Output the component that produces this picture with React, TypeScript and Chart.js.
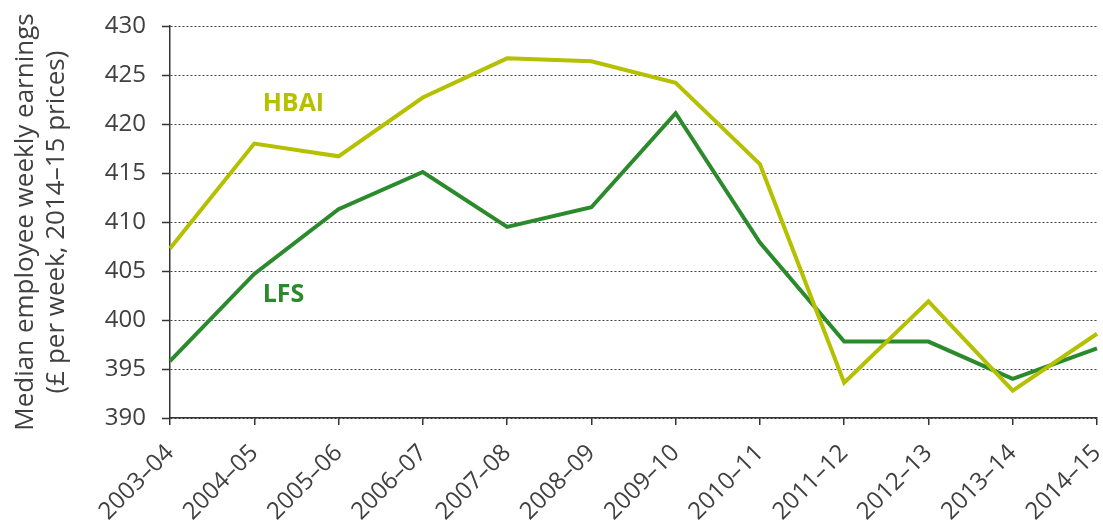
import React, { useEffect, useRef } from "react";
import { Chart, registerables } from "chart.js";

Chart.register(...registerables);

const categories = [
  "2003–04", "2004–05", "2005–06", "2006–07", "2007–08", "2008–09",
  "2009–10", "2010–11", "2011–12", "2012–13", "2013–14", "2014–15",
];
const hbaiValues = [407.3, 418.0, 416.7, 422.7, 426.7, 426.4, 424.2, 415.9, 393.6, 401.9, 392.8, 398.6];
const lfsValues = [395.8, 404.7, 411.3, 415.1, 409.5, 411.5, 421.1, 407.9, 397.8, 397.8, 394.0, 397.1];
const yTicks = [390, 395, 400, 405, 410, 415, 420, 425, 430];
const yTitle = ["Median employee weekly earnings", "(£ per week, 2014–15 prices)"];
// series name labels: [category index, value]
const hbaiLabelAt = [1.1, 422.1];
const lfsLabelAt = [1.1, 402.6];

const HBAI_COLOR = "#b4c000";
const LFS_COLOR = "#2a8a2c";
const TEXT = "#404040";
const FONT = "'Open Sans', 'Noto Sans', sans-serif";

const seriesLabels = {
  id: "seriesLabels",
  afterDatasetsDraw(chart: any) {
    const { ctx, scales } = chart;
    const items: [string, number[], string][] = [
      ["HBAI", hbaiLabelAt, HBAI_COLOR],
      ["LFS", lfsLabelAt, LFS_COLOR],
    ];
    ctx.save();
    ctx.font = `bold 25px ${FONT}`;
    ctx.textAlign = "left";
    ctx.textBaseline = "middle";
    for (const [t, pos, c] of items) {
      ctx.fillStyle = c;
      ctx.fillText(t, scales.x.getPixelForValue(pos[0]), scales.y.getPixelForValue(pos[1]));
    }
    ctx.restore();
  },
};

export default function App() {
  const ref = useRef<HTMLCanvasElement>(null);
  useEffect(() => {
    const chart = new Chart(ref.current!, {
      type: "line",
      data: {
        labels: categories,
        datasets: [
          { label: "HBAI", data: hbaiValues, borderColor: HBAI_COLOR, borderWidth: 4, pointRadius: 0, tension: 0, fill: false },
          { label: "LFS", data: lfsValues, borderColor: LFS_COLOR, borderWidth: 4, pointRadius: 0, tension: 0, fill: false },
        ],
      },
      options: {
        animation: false,
        responsive: false,
        devicePixelRatio: 1,
        layout: { padding: { top: 26, right: 6, left: 0, bottom: 0 } },
        plugins: { legend: { display: false }, tooltip: { enabled: false } },
        scales: {
          x: {
            offset: false,
            grid: { display: true, drawOnChartArea: false, drawTicks: true, tickLength: 7, color: "#333", lineWidth: 1.5 },
            border: { display: true, color: "#333", width: 1.5 },
            ticks: { color: TEXT, font: { family: FONT, size: 24 }, minRotation: 45, maxRotation: 45, padding: 14, autoSkip: false },
            afterFit(scale: any) {
              scale.height = 103;
              scale.paddingRight = 0;
              scale.paddingLeft = 0;
            },
          },
          y: {
            min: 390,
            max: 430,
            afterBuildTicks(scale: any) { scale.ticks = yTicks.map((v) => ({ value: v })); },
            grid: { color: "#444", lineWidth: 1, tickLength: 8, tickBorderDash: [], tickColor: "#333", tickWidth: 1.5 },
            border: { display: true, color: "#333", width: 1.5, dash: [2, 2] },
            ticks: { color: TEXT, font: { family: FONT, size: 24 }, padding: 16 },
            title: { display: true, text: yTitle, color: TEXT, font: { family: FONT, size: 26, lineHeight: 1.2 }, padding: { top: 10, bottom: 0 } },
            afterFit(scale: any) {
              scale.width = 170;
              scale.paddingTop = 0;
              scale.paddingBottom = 0;
            },
          },
        },
      },
      plugins: [seriesLabels],
    });
    return () => chart.destroy();
  }, []);
  return (
    <div style={{ position: "fixed", left: 0, top: 0, width: 1103, height: 521, background: "#fff" }}>
      <canvas ref={ref} width={1103} height={521} />
    </div>
  );
}
